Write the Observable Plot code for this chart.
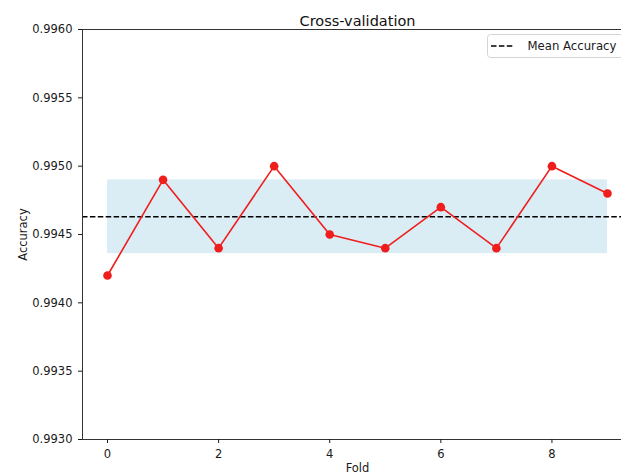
<!DOCTYPE html>
<html>
<head>
<meta charset="utf-8">
<script src="https://cdn.jsdelivr.net/npm/d3@7"></script>
<script src="https://cdn.jsdelivr.net/npm/@observablehq/plot@0.6"></script>
<style>
  html, body { margin: 0; padding: 0; background: white; overflow: hidden; }
  #chart { position: relative; width: 621px; height: 476px; overflow: hidden; }
  #chart svg { max-width: none !important; width: 632px; height: 476px; }
</style>
</head>
<body>
<div id="chart"></div>
<script>
const folds = [0, 1, 2, 3, 4, 5, 6, 7, 8, 9];
const accuracy = [0.9942, 0.9949, 0.9944, 0.9950, 0.9945, 0.9944, 0.9947, 0.9944, 0.9950, 0.9948];
const meanAccuracy = 0.99463;
const bandLow = 0.99436;
const bandHigh = 0.99490;
const yTicks = [0.9930, 0.9935, 0.9940, 0.9945, 0.9950, 0.9955, 0.9960];
const xTicks = [0, 2, 4, 6, 8];
const title = "Cross-validation";
const xLabel = "Fold";
const yLabel = "Accuracy";
const legendLabel = "Mean Accuracy";

const data = folds.map((f, i) => ({fold: f, acc: accuracy[i]}));
const font = "DejaVu Sans, sans-serif";

const chart = Plot.plot({
  width: 632,
  height: 476,
  marginLeft: 82,
  marginRight: 0,
  marginTop: 29,
  marginBottom: 37,
  style: {fontFamily: font, fontSize: "11.5px", color: "#1a1a1a", background: "white", maxWidth: "none"},
  x: {domain: [-0.45, 9.45]},
  y: {domain: [0.9930, 0.9960]},
  marks: [
    Plot.rect([{x1: folds[0], x2: folds[folds.length - 1], y1: bandLow, y2: bandHigh}],
      {x1: "x1", x2: "x2", y1: "y1", y2: "y2", fill: "lightblue", fillOpacity: 0.45}),
    Plot.ruleY([meanAccuracy], {stroke: "black", strokeWidth: 1.6, strokeDasharray: "5.5,2.4"}),
    Plot.line(data, {x: "fold", y: "acc", stroke: "#f01d1d", strokeWidth: 1.6}),
    Plot.dot(data, {x: "fold", y: "acc", fill: "#f01d1d", r: 4.3}),
    Plot.frame({stroke: "#333", strokeWidth: 1}),
    Plot.axisY({ticks: yTicks, tickFormat: d3.format(".4f"), tickSize: 4, tickPadding: 6,
      label: yLabel, labelAnchor: "center", labelArrow: "none", labelOffset: 64, fontSize: "11.5px"}),
    Plot.axisX({ticks: xTicks, tickSize: 4, tickPadding: 6, label: null}),
    Plot.text([xLabel], {frameAnchor: "bottom", dy: 32, fontSize: "11.5px", fill: "#1a1a1a"}),
    Plot.text([title], {frameAnchor: "top", dy: -14, fontSize: "14.5px", fill: "#111"})
  ]
});
document.getElementById("chart").appendChild(chart);

// legend (matplotlib-style box at upper right)
const svg = d3.select(chart);
const g = svg.append("g").attr("text-anchor", "start");
g.append("rect").attr("x", 487.5).attr("y", 34.5).attr("width", 150).attr("height", 23)
  .attr("rx", 3).attr("fill", "white").attr("fill-opacity", 0.85).attr("stroke", "#d5d5d5");
g.append("line").attr("x1", 491).attr("x2", 514).attr("y1", 46).attr("y2", 46)
  .attr("stroke", "black").attr("stroke-width", 1.6).attr("stroke-dasharray", "5.5,2.4");
g.append("text").attr("x", 527.5).attr("y", 50).attr("font-family", font)
  .attr("font-size", "11.7px").attr("fill", "#1a1a1a").attr("text-anchor", "start").text(legendLabel);
</script>
</body>
</html>
